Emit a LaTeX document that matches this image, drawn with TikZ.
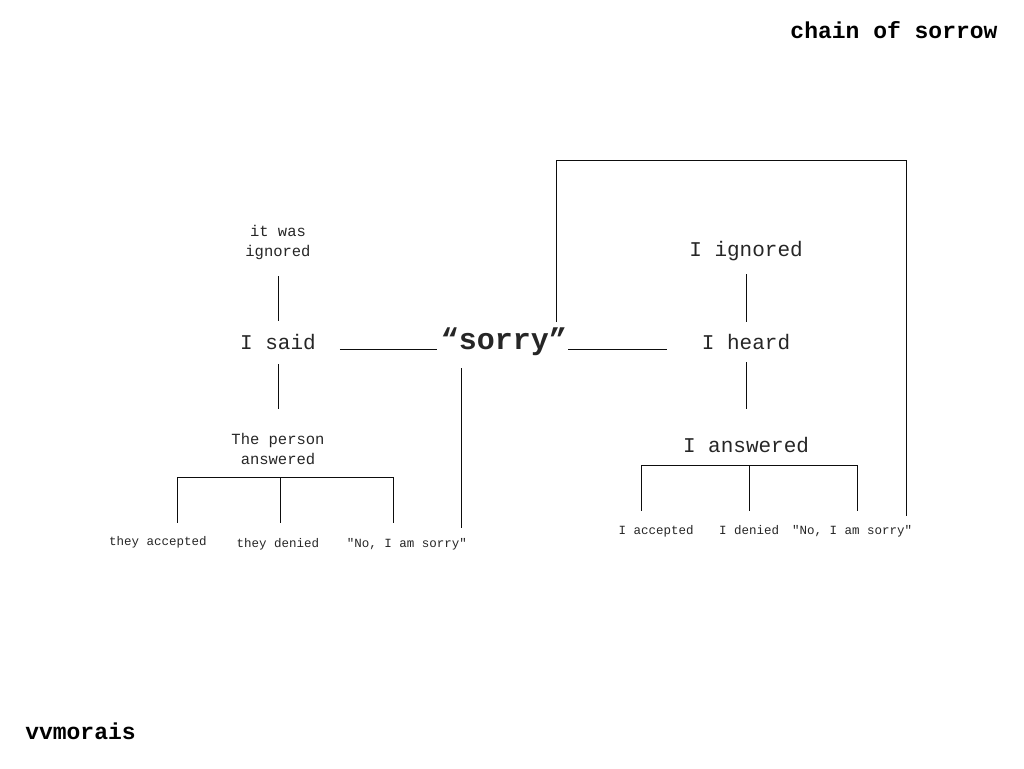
\documentclass[tikz,border=0pt]{standalone}
\usepackage{fontspec}
\setmainfont{Liberation Mono}[Ligatures=TeXOff]
\usetikzlibrary{calc}
\tikzstyle{word}=[inner sep=0pt,outer sep=0pt,text=black!85,align=center,anchor=base,text height=7pt,text depth=2pt]
\tikzstyle{bigword}=[word,font=\fontsize{21}{26}\selectfont]
\tikzstyle{midword}=[word,font=\fontsize{15.5}{20}\selectfont]
\tikzstyle{leafword}=[word,font=\fontsize{12.5}{15}\selectfont]
\tikzstyle{titleword}=[inner sep=0pt,anchor=base,font=\bfseries\fontsize{23}{28}\selectfont]
\tikzstyle{undirectededge}=[draw,line width=0.9pt,black!95]

\begin{document}
\begin{tikzpicture}[x=1pt,y=-1pt]
\useasboundingbox (0,0) rectangle (1024,768);

 \node[titleword] (title) at (894,38) {chain of sorrow};
 \node[titleword] (sign) at (80.5,739) {vvmorais};

 %centre
 \node[word,font=\bfseries\fontsize{30}{36}\selectfont] (sorry) at (504,349) {“sorry”};

 %left
   \foreach \x/\y/\name/\label in {278/349/said/I said}
          \node[bigword] (\name) at (\x,\y) {\label};
   \foreach \x/\y/\name/\label in {278/256/ign/{it was\\ignored}, 278/464/person/{The person\\answered}}
          \node[midword] (\name) at (\x,\y) {\label};
   \foreach \x/\y/\name/\label in {158/545/lacc/they accepted, 278/547/lden/they denied, 407/547/lno/{"No, I am sorry"}}
          \node[leafword] (\name) at (\x,\y) {\label};

  \foreach \source/ \dest /\sa/\sb in {ign/said/18/21, said/person/13/48}
         \path[undirectededge, shorten <=\sa pt, shorten >=\sb pt] (\source.south) -- (\dest.north);

  \foreach \x/\name in {177/pl, 280/pm, 393/pr}
         \coordinate (\name) at (\x,477);
  \path[undirectededge] (pl) -- (pr);
  \foreach \knot/\leaf/\sb in {pl/lacc/15, pm/lden/17, pr/lno/17}
         \path[undirectededge, shorten >=\sb pt] (\knot) -- (\knot |- \leaf.north);

 %right
   \foreach \x/\y/\name/\label in {746/256/ignd/I ignored, 746/349/heard/I heard, 746/452/answ/I answered}
          \node[bigword] (\name) at (\x,\y) {\label};
   \foreach \x/\y/\name/\label in {656/534/racc/I accepted, 749/534/rden/I denied, 852/534/rno/{"No, I am sorry"}}
          \node[leafword] (\name) at (\x,\y) {\label};

  \foreach \source/ \dest /\sa/\sb in {ignd/heard/16/20, heard/answ/11/36}
         \path[undirectededge, shorten <=\sa pt, shorten >=\sb pt] (\source.south) -- (\dest.north);

  \foreach \x/\name in {641/ql, 749/qm, 857/qr}
         \coordinate (\name) at (\x,465);
  \path[undirectededge] (ql) -- (qr);
  \foreach \knot/\leaf in {ql/racc, qm/rden, qr/rno}
         \path[undirectededge, shorten >=16pt] (\knot) -- (\knot |- \leaf.north);

 %sorry links
  \path[undirectededge, shorten <=24pt, shorten >=4pt] (said.base east) -- (sorry.base west);
  \path[undirectededge, shorten <=1pt, shorten >=35pt] (sorry.base east) -- (heard.base west);
  \coordinate (sdrop) at (461,0);
  \path[undirectededge, shorten <=17pt, shorten >=12pt] (sdrop |- sorry.south) -- (sdrop |- lno.north);
  \coordinate (loop) at (906,160);
  \path[undirectededge, shorten <=20pt, shorten >=11pt] ([xshift=52pt]sorry.north) |- (loop) -- (loop |- rno.north);

\end{tikzpicture}
\end{document}
